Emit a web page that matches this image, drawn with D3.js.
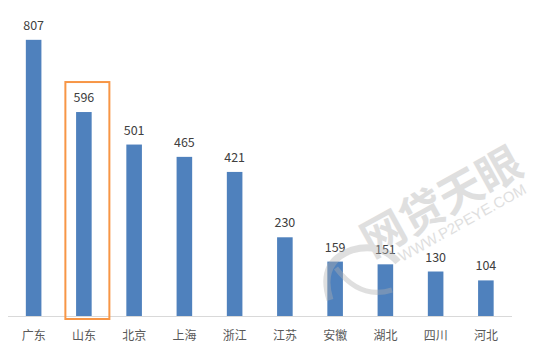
<!DOCTYPE html>
<html>
<head>
<meta charset="utf-8">
<script src="https://cdn.jsdelivr.net/npm/d3@7"></script>
<style>
  html,body{margin:0;padding:0;background:#fff;}
  svg{display:block;}
</style>
</head>
<body>
<div id="chart"></div>
<script>
const provinces=["广东","山东","北京","上海","浙江","江苏","安徽","湖北","四川","河北"];
const counts=[807,596,501,465,421,230,159,151,130,104];
const highlight="山东";

const W=545,H=355;
const FONT="'Microsoft YaHei','Noto Sans CJK SC','Noto Sans',sans-serif";

const svg=d3.select("#chart").append("svg")
  .attr("width",W).attr("height",H);

const x=d3.scaleBand().domain(provinces).range([8.5,511]).paddingInner(0.69).paddingOuter(0.345);
const y=d3.scaleLinear().domain([0,900]).range([316,8]);

// bars
svg.selectAll("rect.bar").data(provinces).join("rect").attr("class","bar")
  .attr("x",d=>x(d)).attr("width",x.bandwidth())
  .attr("y",(d,i)=>y(counts[i])).attr("height",(d,i)=>y(0)-y(counts[i]))
  .attr("fill","#4f81bd");

// axis line + category labels
const ax=svg.append("g").attr("transform",`translate(0,${y(0)})`)
  .call(d3.axisBottom(x).tickSize(0).tickPadding(15));
ax.select(".domain").attr("stroke","#d9d9d9").attr("d","M8,0.5H512");
ax.selectAll("text").attr("fill","#595959")
  .style("font-size","12px").style("font-family",FONT);

// value labels
svg.selectAll("text.val").data(provinces).join("text").attr("class","val")
  .attr("x",d=>x(d)+x.bandwidth()/2).attr("y",(d,i)=>y(counts[i])-10)
  .attr("text-anchor","middle").attr("fill","#404040")
  .style("font-size","12.5px").style("font-family",FONT)
  .text((d,i)=>counts[i]);

// highlight box
const hi=provinces.indexOf(highlight);
const cx=x(highlight)+x.bandwidth()/2;
svg.append("rect")
  .attr("x",cx-18.5).attr("width",44)
  .attr("y",y(counts[hi])-30).attr("height",y(0)+3-(y(counts[hi])-30))
  .attr("fill","none").attr("stroke","#f79646").attr("stroke-width",2);

// watermark
const wm=svg.append("g").attr("opacity",0.4).style("pointer-events","none");
wm.append("path")
  .attr("d","M330,300 Q318,262 352,250 Q380,242 398,262")
  .attr("fill","none").attr("stroke","#b0b0b0").attr("stroke-width",7);
wm.append("path")
  .attr("d","M336,268 Q360,300 392,290")
  .attr("fill","none").attr("stroke","#b0b0b0").attr("stroke-width",5);
wm.append("text").attr("transform","translate(372,258) rotate(-29)")
  .attr("fill","#b0b0b0")
  .style("font-size","44px").style("font-weight","bold").style("font-family",FONT)
  .text("网贷天眼");
wm.append("text").attr("transform","translate(402,262) rotate(-29)")
  .attr("fill","#b0b0b0")
  .style("font-size","15px").style("font-family","'Liberation Sans',Arial,sans-serif")
  .text("WWW.P2PEYE.COM");
</script>
</body>
</html>
